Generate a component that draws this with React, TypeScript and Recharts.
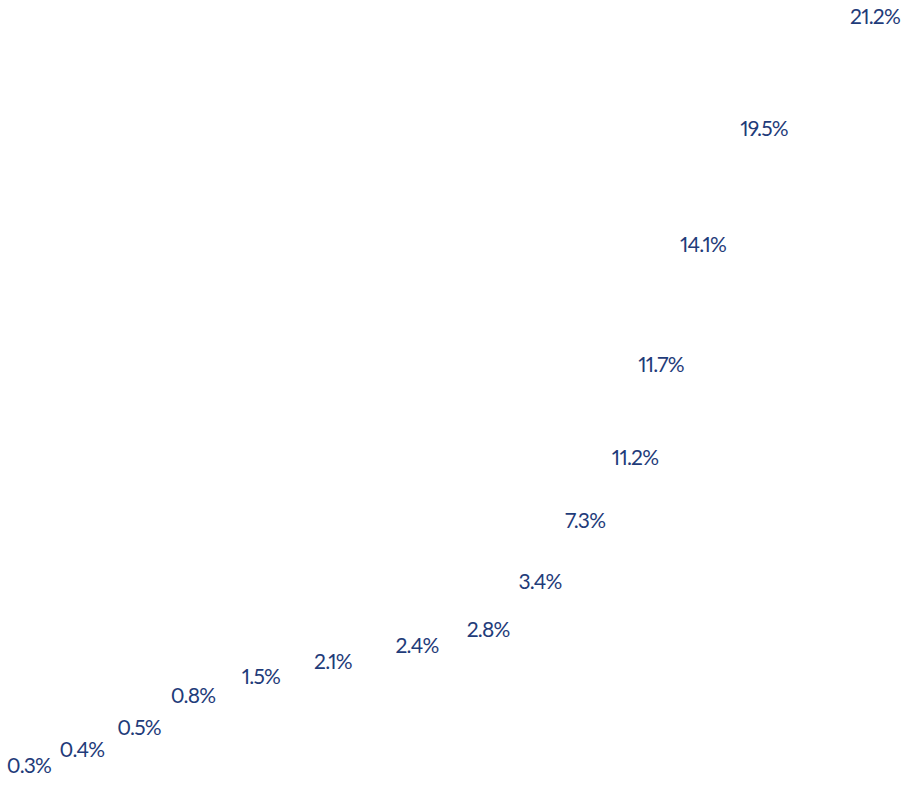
import React from "react";
import { ScatterChart, Scatter, XAxis, YAxis } from "recharts";

const labels = ["0.3%", "0.4%", "0.5%", "0.8%", "1.5%", "2.1%", "2.4%", "2.8%", "3.4%", "7.3%", "11.2%", "11.7%", "14.1%", "19.5%", "21.2%"];
const xPos = [3.19, 9.02, 15.29, 21.23, 28.71, 36.63, 45.87, 53.69, 59.41, 64.36, 69.86, 72.72, 77.34, 84.05, 96.26];
const yPos = [2.67, 4.7, 7.5, 11.56, 13.98, 15.88, 17.92, 19.95, 26.05, 33.8, 41.8, 53.62, 68.87, 83.61, 97.84];

const data = labels.map((label, i) => ({ label, x: xPos[i], y: yPos[i] }));

const LabelShape = (props: any) => {
  const { cx, cy, payload } = props;
  return (
    <text
      x={cx}
      y={cy}
      dy={-1.5}
      textAnchor="middle"
      dominantBaseline="central"
      fontFamily="Lato, sans-serif"
      fontSize={21}
      letterSpacing={-0.8}
      style={{ fontVariantNumeric: "proportional-nums" }}
      fill="#1f3c7a"
    >
      {payload.label}
    </text>
  );
};

export default function App() {
  return (
    <div style={{ position: "absolute", left: 0, top: 0, background: "#fff" }}>
      <ScatterChart width={909} height={787} margin={{ top: 0, right: 0, bottom: 0, left: 0 }}>
        <XAxis type="number" dataKey="x" domain={[0, 100]} hide />
        <YAxis type="number" dataKey="y" domain={[0, 100]} hide />
        <Scatter data={data} shape={LabelShape} isAnimationActive={false} />
      </ScatterChart>
    </div>
  );
}
